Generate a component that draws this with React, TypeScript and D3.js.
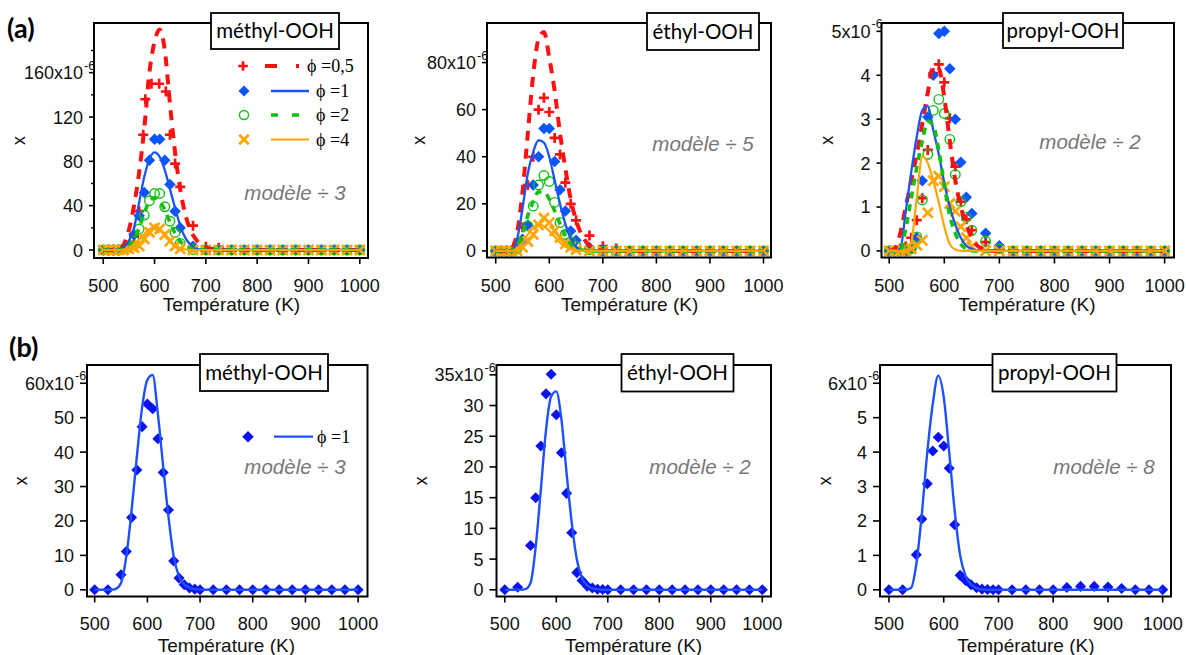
import React from "react";
import * as d3 from "d3";

// ---------------- temperatures (K) ----------------
const tempsExpTop = [500, 510, 520, 530, 540, 550, 560, 570, 580, 590, 600, 610, 620, 630, 640, 650, 675, 700, 725, 750, 775, 800, 825, 850, 875, 900, 925, 950, 975, 1000];
const tempsModelTop = [500, 510, 520, 530, 540, 550, 560, 570, 580, 590, 600, 610, 620, 630, 640, 650, 660, 670, 680, 690, 700, 725, 750, 800, 850, 900, 950, 1000];
const tempsExpBottom = [500, 525, 550, 560, 570, 580, 590, 600, 610, 620, 630, 640, 650, 660, 670, 680, 690, 700, 725, 750, 775, 800, 825, 850, 875, 900, 925, 950, 975, 1000];
const tempsModelBottom = [500, 510, 520, 530, 540, 550, 560, 570, 580, 590, 600, 610, 620, 630, 640, 650, 660, 670, 680, 690, 700, 725, 750, 800, 850, 900, 950, 1000];

// ---------------- (a) méthyl-OOH (x 1e-6) ----------------
const methylPhi05T = [500, 510, 520, 530, 540, 550, 560, 570, 578, 582, 594, 609, 622, 630, 640, 650, 675, 700, 725, 750, 775, 800, 825, 850, 875, 900, 925, 950, 975, 1000];
const methylPhi05Exp = [0, 0, 0, 0, 1, 4, 12, 35, 104, 136, 150, 150, 143, 104, 78, 57, 22, 3, 2, 0, 0, 0, 0, 0, 0, 0, 0, 0, 0, 0];
const methylPhi1Exp = [0, 0, 0, 0, 1, 4, 14, 31, 52, 81, 100, 100, 81, 59, 35, 20, 3.5, 0.5, 0, 0, 0, 0, 0, 0, 0, 0, 0, 0, 0, 0];
const methylPhi2Exp = [0, 0, 0, 0, 1, 3, 8, 19, 31.5, 44.5, 51, 51, 39, 26, 15.8, 6, 0.5, 0, 0, 0, 0, 0, 0, 0, 0, 0, 0, 0, 0, 0];
const methylPhi4Exp = [0, 0, 0, 0, 0, 1, 2, 3.6, 10, 16, 20, 19, 14, 8, 3.6, 1, 0, 0, 0, 0, 0, 0, 0, 0, 0, 0, 0, 0, 0, 0];
const methylPhi05Model = [0, 0, 0, 0.5, 5, 18, 40, 70, 110, 160, 188, 199, 180, 132, 88, 55, 32, 18, 10, 5, 2.5, 0.3, 0, 0, 0, 0, 0, 0];
const methylPhi1Model = [0, 0, 0, 0.5, 2.5, 8, 20, 43, 66, 82, 88, 84, 72, 55, 38, 22, 11, 5, 1.2, 0.4, 0.1, 0, 0, 0, 0, 0, 0, 0];
const methylPhi2Model = [0, 0, 0, 0, 1, 4, 10, 20, 33, 44, 47, 44, 36, 25, 15, 8, 3.5, 1.2, 0.3, 0, 0, 0, 0, 0, 0, 0, 0, 0];
const methylPhi4Model = [0, 0, 0, 0, 0.5, 2, 5, 9.5, 14.5, 19, 20, 18, 13, 8, 4, 1.5, 0.5, 0.1, 0, 0, 0, 0, 0, 0, 0, 0, 0, 0];

// ---------------- (a) éthyl-OOH ----------------
const ethylPhi05Exp = [0, 0, 0, 0, 3, 10, 28, 40, 60, 65, 59, 48, 41, 29, 20, 13, 6.5, 2, 1, 0, 0, 0, 0, 0, 0, 0, 0, 0, 0, 0];
const ethylPhi1Exp = [0, 0, 0, 0, 2, 5, 11, 28, 40, 52, 52, 38, 26, 17, 8.5, 4.5, 1.5, 0.5, 0.3, 0, 0, 0, 0, 0, 0, 0, 0, 0, 0, 0];
const ethylPhi2Exp = [0, 0, 0, 0, 1, 4, 10.6, 19, 28, 32, 29.5, 20.6, 12, 7, 4, 2, 0.5, 0, 0, 0, 0, 0, 0, 0, 0, 0, 0, 0, 0, 0];
const ethylPhi4Exp = [0, 0, 0, 0, 0, 1.5, 4, 7, 11, 14, 12, 8.5, 5.7, 3, 1.5, 0.5, 0, 0, 0, 0, 0, 0, 0, 0, 0, 0, 0, 0, 0, 0];
const ethylPhi05Model = [0, 0, 0, 1, 8, 25, 50, 75, 90, 93, 82, 68, 50, 35, 22, 13, 7, 3.5, 1.5, 0.5, 0.2, 0, 0, 0, 0, 0, 0, 0];
const ethylPhi1Model = [0, 0, 0, 0.3, 5, 18, 33, 42, 47, 46, 40, 30, 20, 11.5, 5.3, 1.7, 0.4, 0.1, 0, 0, 0, 0, 0, 0, 0, 0, 0, 0];
const ethylPhi2Model = [0, 0, 0, 0, 2, 7, 15, 21, 25, 25, 22, 17, 11.5, 6.5, 3, 1.2, 0.4, 0.1, 0, 0, 0, 0, 0, 0, 0, 0, 0, 0];
const ethylPhi4Model = [0, 0, 0, 0, 1, 3.5, 7, 10, 11.3, 10.5, 8.5, 6, 3.5, 1.8, 0.7, 0.2, 0, 0, 0, 0, 0, 0, 0, 0, 0, 0, 0, 0];

// ---------------- (a) propyl-OOH ----------------
const propylPhi05Exp = [0, 0, 0.05, 0.1, 0.3, 0.7, 1.2, 2.3, 4.05, 4.25, 3.84, 3.02, 1.92, 1.12, 0.72, 0.47, 0.2, 0.05, 0, 0, 0, 0, 0, 0, 0, 0, 0, 0, 0, 0];
const propylPhi1Exp = [0, 0, 0, 0, 0.05, 0.3, 1.6, 3.05, 4.0, 4.95, 5.0, 4.15, 3.0, 2.02, 1.22, 0.85, 0.4, 0.12, 0, 0, 0, 0, 0, 0, 0, 0, 0, 0, 0, 0];
const propylPhi2Exp = [0, 0, 0, 0, 0.05, 0.32, 1.16, 2.2, 3.2, 3.45, 3.13, 2.54, 1.74, 1.12, 0.77, 0.47, 0.22, 0.05, 0, 0, 0, 0, 0, 0, 0, 0, 0, 0, 0, 0];
const propylPhi4Exp = [0, 0, 0, 0, 0.05, 0.13, 0.24, 0.87, 1.6, 1.7, 1.46, 1.08, 0.9, 0.55, 0.3, 0.1, 0, 0, 0, 0, 0, 0, 0, 0, 0, 0, 0, 0, 0, 0];
const propylPhi05Model = [0, 0.05, 0.4, 1.0, 1.6, 2.2, 2.9, 3.6, 4.2, 4.15, 3.5, 2.5, 1.6, 1.0, 0.6, 0.3, 0.12, 0.04, 0, 0, 0, 0, 0, 0, 0, 0, 0, 0];
const propylPhi1Model = [0, 0, 0.05, 0.9, 1.8, 2.6, 3.2, 3.3, 2.75, 2.2, 1.55, 1.0, 0.6, 0.3, 0.12, 0.05, 0.01, 0, 0, 0, 0, 0, 0, 0, 0, 0, 0, 0];
const propylPhi2Model = [0, 0, 0, 0.5, 1.2, 1.9, 2.5, 2.95, 2.85, 2.3, 1.5, 0.8, 0.4, 0.15, 0.05, 0, 0, 0, 0, 0, 0, 0, 0, 0, 0, 0, 0, 0];
const propylPhi4Model = [0, 0, 0, 0, 0.2, 1.2, 2.15, 2.0, 1.6, 1.1, 0.55, 0.15, 0.03, 0, 0, 0, 0, 0, 0, 0, 0, 0, 0, 0, 0, 0, 0, 0];

// ---------------- (b) phi = 1 ----------------
const methylBExp = [0, 0, 4.4, 11.1, 21.0, 34.8, 47.4, 54.0, 52.6, 43.9, 34.1, 23.2, 8.4, 3.4, 1.5, 0.5, 0.2, 0, 0, 0, 0, 0, 0, 0, 0, 0, 0, 0, 0, 0];
const ethylBExp = [0, 0.4, 7.2, 15.0, 23.4, 31.9, 35.1, 28.5, 22.3, 15.7, 9.3, 2.8, 1.5, 0.6, 0.3, 0.1, 0.05, 0, 0, 0, 0, 0, 0, 0, 0, 0, 0, 0, 0, 0];
const propylBExp = [0, 0, 1.02, 2.06, 3.08, 4.03, 4.43, 4.18, 3.53, 1.89, 0.42, 0.27, 0.15, 0.06, 0.02, 0.01, 0, 0, 0, 0, 0, 0, 0.07, 0.1, 0.1, 0.08, 0.04, 0, 0, 0];
const methylBModel = [0, 0, 0, 0, 0.3, 2, 9.7, 23, 38.7, 53, 61, 62.4, 51, 35.8, 21.3, 9.7, 3.9, 1.6, 0.6, 0.2, 0.05, 0, 0, 0, 0, 0, 0, 0];
const ethylBModel = [0, 0, 0, 0, 0.1, 1.1, 7, 16.3, 26, 31.5, 32.3, 27.7, 19, 10.9, 4.9, 1.9, 0.7, 0.25, 0.1, 0, 0, 0, 0, 0, 0, 0, 0, 0];
const propylBModel = [0, 0, 0, 0, 0.05, 0.75, 2.2, 4.0, 5.4, 6.22, 5.6, 4.0, 2.3, 1.0, 0.4, 0.15, 0.05, 0.01, 0, 0, 0, 0, 0, 0, 0, 0, 0, 0];

// ---------------- ticks & labels ----------------
const xTicks = [500, 600, 700, 800, 900, 1000];
const methylTopTicks = [0, 40, 80, 120, 160];
const methylTopMinor = [20, 60, 100, 140, 180];
const ethylTopTicks = [0, 20, 40, 60, 80];
const propylTopTicks = [0, 1, 2, 3, 4, 5];
const methylBTicks = [0, 10, 20, 30, 40, 50, 60];
const ethylBTicks = [0, 5, 10, 15, 20, 25, 30, 35];
const propylBTicks = [0, 1, 2, 3, 4, 5, 6];
const phiLabels = ["\u03D5 =0,5", "\u03D5 =1", "\u03D5 =2", "\u03D5 =4"];

const C = {
  red: "#ff1010",
  blue: "#0a55ff",
  blueLine: "#1a55f5",
  green: "#10c010",
  orange: "#ffa500",
  bDiamond: "#0a12ee",
  bLine: "#1f50ff",
};

const SANS = "'Liberation Sans', Arial, Helvetica, sans-serif";
const TITLE = "Lato, 'Open Sans', sans-serif";
const SERIF = "'Liberation Serif', 'Times New Roman', serif";

type Series = {
  kind: "plus" | "diamond" | "circle" | "cross";
  color: string;
  t: number[];
  v: number[];
};
type Curve = { color: string; width: number; dash?: string; t: number[]; v: number[] };

type PanelCfg = {
  left: number; right: number; top: number; bottom: number;
  xDomain: [number, number]; yDomain: [number, number];
  yTicks: number[]; yMinor?: number[];
  yTickLen: number; xTickLen: number;
  title: string; box: [number, number, number, number];
  note: string; noteX: number; noteY: number;
  yLabelX: number; tickBaseOff: number; titleBaseOff: number;
  series: Series[]; curves: Curve[]; markerSize: number;
};

function markerPath(kind: string, s: number) {
  if (kind === "plus") return `M${-s},0H${s}M0,${-s}V${s}`;
  if (kind === "cross") return `M${-s},${-s}L${s},${s}M${-s},${s}L${s},${-s}`;
  if (kind === "diamond") return `M0,${-s * 1.15}L${s * 1.15},0L0,${s * 1.15}L${-s * 1.15},0Z`;
  return "";
}

function Marker({ kind, color, x, y, s }: { kind: string; color: string; x: number; y: number; s: number }) {
  if (kind === "circle")
    return <circle cx={x} cy={y} r={s * 0.95} fill="none" stroke={color} strokeWidth={1.4} />;
  if (kind === "diamond")
    return <path d={markerPath(kind, s)} transform={`translate(${x},${y})`} fill={color} />;
  return <path d={markerPath(kind, s)} transform={`translate(${x},${y})`} fill="none" stroke={color} strokeWidth={2.7} />;
}

function Panel({ p, id }: { p: PanelCfg; id: string }) {
  const x = d3.scaleLinear().domain(p.xDomain).range([p.left, p.right]);
  const y = d3.scaleLinear().domain(p.yDomain).range([p.bottom, p.top]);
  const mkLine = (c: Curve) =>
    d3.line<number>().x((_, i) => x(c.t[i])).y((d) => y(d)).curve(d3.curveMonotoneX)(c.v) || "";
  const maxTick = p.yTicks[p.yTicks.length - 1];
  const labelRight = p.left - p.yTickLen - 6;
  const midY = (p.top + p.bottom) / 2;
  return (
    <g>
      <defs>
        <clipPath id={id}>
          <rect x={p.left} y={p.top} width={p.right - p.left} height={p.bottom - p.top} />
        </clipPath>
      </defs>
      <g clipPath={`url(#${id})`}>
        {p.series.map((s, si) =>
          s.v.map((v, i) => (
            <Marker key={`${si}-${i}`} kind={s.kind} color={s.color} x={x(s.t[i])} y={y(v)} s={p.markerSize} />
          ))
        )}
        {p.curves.map((c, ci) => (
          <path key={ci} d={mkLine(c)} fill="none" stroke={c.color} strokeWidth={c.width} strokeDasharray={c.dash} strokeLinejoin="round" />
        ))}
      </g>
      {/* frame */}
      <rect x={p.left} y={p.top} width={p.right - p.left} height={p.bottom - p.top} fill="none" stroke="#000" strokeWidth={2} />
      {/* y ticks */}
      {p.yTicks.map((t) => (
        <g key={`y${t}`}>
          <line x1={p.left - p.yTickLen} x2={p.left} y1={y(t)} y2={y(t)} stroke="#000" strokeWidth={1.6} />
          <text x={labelRight} y={y(t) + 6.5} textAnchor="end" fontFamily={SANS} fontSize={18} fill="#111">
            {t === maxTick ? `${t}x10` : `${t}`}
          </text>
          {t === maxTick && (
            <text x={labelRight + 1} y={y(t) - 3} fontFamily={SANS} fontSize={12.5} fill="#111">-6</text>
          )}
        </g>
      ))}
      {(p.yMinor || []).map((t) => (
        <line key={`m${t}`} x1={p.left - 3} x2={p.left} y1={y(t)} y2={y(t)} stroke="#000" strokeWidth={1.4} />
      ))}
      {/* x ticks */}
      {xTicks.map((t) => (
        <g key={`x${t}`}>
          <line x1={x(t)} x2={x(t)} y1={p.bottom} y2={p.bottom + p.xTickLen} stroke="#000" strokeWidth={1.6} />
          <text x={x(t)} y={p.bottom + p.tickBaseOff} textAnchor="middle" fontFamily={SANS} fontSize={18} fill="#111">
            {t}
          </text>
        </g>
      ))}
      <text x={(x(500) + x(1000)) / 2} y={p.bottom + p.titleBaseOff} textAnchor="middle" fontFamily={SANS} fontSize={19} fill="#111">
        Température (K)
      </text>
      <text transform={`translate(${p.yLabelX + 5},${midY}) rotate(-90)`} textAnchor="middle" fontFamily={SANS} fontSize={18} fill="#111">
        x
      </text>
      {/* title box */}
      <rect x={p.box[0]} y={p.box[1]} width={p.box[2] - p.box[0]} height={p.box[3] - p.box[1]} fill="#fff" stroke="#000" strokeWidth={1.8} />
      <text x={(p.box[0] + p.box[2]) / 2} y={(p.box[1] + p.box[3]) / 2 + 7} textAnchor="middle" fontFamily={TITLE} fontSize={20.5} fill="#000">
        {p.title}
      </text>
      <text x={p.noteX} y={p.noteY + 7} textAnchor="middle" fontFamily={SANS} fontStyle="italic" fontSize={20.5} fill="#777">
        {p.note}
      </text>
    </g>
  );
}

function topSeries(s05: number[], s1: number[], s2: number[], s4: number[], t05: number[]): Series[] {
  return [
    { kind: "plus", color: C.red, t: t05, v: s05 },
    { kind: "diamond", color: C.blue, t: tempsExpTop, v: s1 },
    { kind: "circle", color: C.green, t: tempsExpTop, v: s2 },
    { kind: "cross", color: C.orange, t: tempsExpTop, v: s4 },
  ];
}
function topCurves(m05: number[], m1: number[], m2: number[], m4: number[]): Curve[] {
  return [
    { color: C.red, width: 4, dash: "10,8", t: tempsModelTop, v: m05 },
    { color: C.blueLine, width: 2.3, t: tempsModelTop, v: m1 },
    { color: C.green, width: 3.6, dash: "7,6", t: tempsModelTop, v: m2 },
    { color: C.orange, width: 2.2, t: tempsModelTop, v: m4 },
  ];
}

const panels: PanelCfg[] = [
  {
    left: 94, right: 368, top: 23, bottom: 258, xDomain: [482, 1016], yDomain: [-7.2, 204.8],
    yTicks: methylTopTicks, yMinor: methylTopMinor, yTickLen: 5, xTickLen: 6,
    title: "méthyl-OOH", box: [211, 13, 339, 49], note: "modèle ÷ 3", noteX: 295, noteY: 193,
    yLabelX: 20, tickBaseOff: 34, titleBaseOff: 53, markerSize: 5,
    series: topSeries(methylPhi05Exp, methylPhi1Exp, methylPhi2Exp, methylPhi4Exp, methylPhi05T),
    curves: topCurves(methylPhi05Model, methylPhi1Model, methylPhi2Model, methylPhi4Model),
  },
  {
    left: 487, right: 771, top: 23, bottom: 257.5, xDomain: [483.7, 1014], yDomain: [-2.8, 96.8],
    yTicks: ethylTopTicks, yTickLen: 5, xTickLen: 6,
    title: "éthyl-OOH", box: [647, 13, 759, 50], note: "modèle ÷ 5", noteX: 703, noteY: 144,
    yLabelX: 420, tickBaseOff: 34, titleBaseOff: 53, markerSize: 5,
    series: topSeries(ethylPhi05Exp, ethylPhi1Exp, ethylPhi2Exp, ethylPhi4Exp, tempsExpTop),
    curves: topCurves(ethylPhi05Model, ethylPhi1Model, ethylPhi2Model, ethylPhi4Model),
  },
  {
    left: 881.5, right: 1174, top: 23, bottom: 257.5, xDomain: [486, 1017], yDomain: [-0.15, 5.19],
    yTicks: propylTopTicks, yTickLen: 5, xTickLen: 6,
    title: "propyl-OOH", box: [1003, 13, 1123, 48], note: "modèle ÷ 2", noteX: 1090, noteY: 142,
    yLabelX: 828, tickBaseOff: 34, titleBaseOff: 53, markerSize: 5,
    series: topSeries(propylPhi05Exp, propylPhi1Exp, propylPhi2Exp, propylPhi4Exp, tempsExpTop),
    curves: topCurves(propylPhi05Model, propylPhi1Model, propylPhi2Model, propylPhi4Model),
  },
  {
    left: 87, right: 367.5, top: 365, bottom: 596.5, xDomain: [485.4, 1017.8], yDomain: [-1.94, 65.3],
    yTicks: methylBTicks, yTickLen: 7, xTickLen: 6,
    title: "méthyl-OOH", box: [200, 354, 328, 391], note: "modèle ÷ 3", noteX: 295, noteY: 467,
    yLabelX: 22, tickBaseOff: 33, titleBaseOff: 55, markerSize: 4.8,
    series: [{ kind: "diamond", color: C.bDiamond, t: tempsExpBottom, v: methylBExp }],
    curves: [{ color: C.bLine, width: 2.4, t: tempsModelBottom, v: methylBModel }],
  },
  {
    left: 496.5, right: 771, top: 365, bottom: 596.5, xDomain: [483.9, 1016.9], yDomain: [-1.09, 36.6],
    yTicks: ethylBTicks, yTickLen: 7, xTickLen: 6,
    title: "éthyl-OOH", box: [621.5, 354, 733.5, 391.5], note: "modèle ÷ 2", noteX: 700, noteY: 467,
    yLabelX: 422, tickBaseOff: 33, titleBaseOff: 55, markerSize: 4.8,
    series: [{ kind: "diamond", color: C.bDiamond, t: tempsExpBottom, v: ethylBExp }],
    curves: [{ color: C.bLine, width: 2.4, t: tempsModelBottom, v: ethylBModel }],
  },
  {
    left: 880, right: 1171, top: 365, bottom: 596.5, xDomain: [483.6, 1015.2], yDomain: [-0.194, 6.53],
    yTicks: propylBTicks, yTickLen: 7, xTickLen: 6,
    title: "propyl-OOH", box: [992.5, 354, 1116.5, 391.5], note: "modèle ÷ 8", noteX: 1104, noteY: 467,
    yLabelX: 826, tickBaseOff: 33, titleBaseOff: 55, markerSize: 4.8,
    series: [{ kind: "diamond", color: C.bDiamond, t: tempsExpBottom, v: propylBExp }],
    curves: [{ color: C.bLine, width: 2.4, t: tempsModelBottom, v: propylBModel }],
  },
];

function LegendA() {
  const rows = [66, 91, 115, 139.5];
  const mx = 243;
  return (
    <g>
      <Marker kind="plus" color={C.red} x={mx} y={rows[0]} s={4.8} />
      <line x1={265} x2={277} y1={rows[0]} y2={rows[0]} stroke={C.red} strokeWidth={4} />
      <line x1={296} x2={299} y1={rows[0]} y2={rows[0]} stroke={C.red} strokeWidth={4} />
      <Marker kind="diamond" color={C.blue} x={mx + 1} y={rows[1]} s={4.8} />
      <line x1={271} x2={309} y1={rows[1]} y2={rows[1]} stroke={C.blueLine} strokeWidth={2.3} />
      <Marker kind="circle" color={C.green} x={mx + 1} y={rows[2]} s={4.8} />
      <line x1={271} x2={300} y1={rows[2]} y2={rows[2]} stroke={C.green} strokeWidth={3.6} strokeDasharray="7,14" />
      <Marker kind="cross" color={C.orange} x={mx + 1} y={rows[3]} s={4.8} />
      <line x1={271} x2={309} y1={rows[3]} y2={rows[3]} stroke={C.orange} strokeWidth={2.2} />
      <text x={307} y={rows[0] + 6} fontFamily={SERIF} fontSize={18} fill="#000">{phiLabels[0]}</text>
      <text x={316} y={rows[1] + 6} fontFamily={SERIF} fontSize={18} fill="#000">{phiLabels[1]}</text>
      <text x={316} y={rows[2] + 6} fontFamily={SERIF} fontSize={18} fill="#000">{phiLabels[2]}</text>
      <text x={316} y={rows[3] + 6} fontFamily={SERIF} fontSize={18} fill="#000">{phiLabels[3]}</text>
    </g>
  );
}

function LegendB() {
  const yy = 436.7;
  return (
    <g>
      <Marker kind="diamond" color={C.bDiamond} x={248} y={yy} s={5} />
      <line x1={274} x2={313} y1={yy} y2={yy} stroke={C.bLine} strokeWidth={2.3} />
      <text x={317} y={yy + 6} fontFamily={SERIF} fontSize={18} fill="#000">{phiLabels[1]}</text>
    </g>
  );
}

export default function App() {
  return (
    <svg width={1186} height={655} style={{ position: "absolute", left: 0, top: 0, background: "#fff" }}>
      <rect x={0} y={0} width={1186} height={655} fill="#fff" />
      {panels.map((p, i) => (
        <Panel key={i} p={p} id={`clip${i}`} />
      ))}
      <LegendA />
      <LegendB />
      <text x={7} y={38} fontFamily={TITLE} fontWeight="bold" fontSize={27} fill="#000">(a)</text>
      <text x={9} y={357} fontFamily={TITLE} fontWeight="bold" fontSize={27} fill="#000">(b)</text>
    </svg>
  );
}
